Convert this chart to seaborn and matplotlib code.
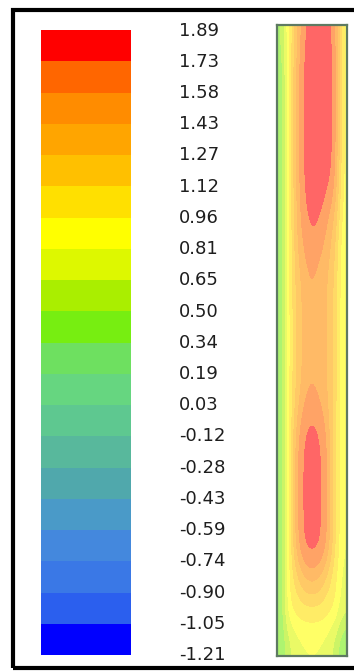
import numpy as np
import matplotlib
matplotlib.use("Agg")
import matplotlib.pyplot as plt
import seaborn as sns
from matplotlib.colors import ListedColormap, BoundaryNorm
from matplotlib.patches import Rectangle

sns.set_theme(style="white")
plt.rcParams['font.family'] = ['DejaVu Sans']

# ---- data ----
level_labels = ["1.89", "1.73", "1.58", "1.43", "1.27", "1.12", "0.96", "0.81",
                "0.65", "0.50", "0.34", "0.19", "0.03", "-0.12", "-0.28", "-0.43",
                "-0.59", "-0.74", "-0.90", "-1.05", "-1.21"]
level_values = [1.89, 1.73, 1.58, 1.43, 1.27, 1.12, 0.96, 0.81, 0.65, 0.50, 0.34,
                0.19, 0.03, -0.12, -0.28, -0.43, -0.59, -0.74, -0.90, -1.05, -1.21]
band_colors = ["#FF0000", "#FF6600", "#FF8C00", "#FFA500", "#FFC000", "#FFE000",
               "#FFFF00", "#DDF800", "#AAEE00", "#77EE11", "#6EE060", "#66D680",
               "#5EC890", "#58B89C", "#50A8AC", "#4A9AC8", "#4488DD", "#3A78E6",
               "#2B5FEE", "#0000FF"]

# field values (rows top -> bottom, columns left -> right)
field_rows = [
    [0.45, 0.95, 1.40, 1.75, 1.78, 1.78, 1.78, 1.70, 0.90],
    [0.35, 0.95, 1.50, 1.78, 1.80, 1.80, 1.80, 1.75, 0.90],
    [0.35, 0.95, 1.50, 1.78, 1.80, 1.80, 1.80, 1.74, 0.90],
    [0.35, 0.95, 1.50, 1.78, 1.80, 1.80, 1.80, 1.72, 0.90],
    [0.35, 0.95, 1.50, 1.78, 1.80, 1.80, 1.80, 1.70, 0.90],
    [0.35, 0.95, 1.48, 1.75, 1.80, 1.80, 1.75, 1.60, 0.88],
    [0.35, 0.95, 1.45, 1.70, 1.76, 1.74, 1.60, 1.40, 0.85],
    [0.35, 0.95, 1.40, 1.60, 1.70, 1.62, 1.50, 1.30, 0.80],
    [0.35, 0.95, 1.35, 1.50, 1.60, 1.50, 1.45, 1.25, 0.80],
    [0.35, 0.95, 1.30, 1.50, 1.55, 1.50, 1.45, 1.20, 0.80],
    [0.35, 0.95, 1.30, 1.50, 1.55, 1.50, 1.45, 1.20, 0.80],
    [0.35, 0.95, 1.30, 1.50, 1.55, 1.50, 1.45, 1.20, 0.80],
    [0.35, 0.95, 1.35, 1.58, 1.66, 1.58, 1.45, 1.20, 0.80],
    [0.35, 0.95, 1.50, 1.74, 1.77, 1.74, 1.55, 1.15, 0.80],
    [0.35, 0.95, 1.58, 1.77, 1.79, 1.77, 1.62, 1.15, 0.80],
    [0.35, 0.95, 1.58, 1.77, 1.79, 1.77, 1.62, 1.15, 0.80],
    [0.35, 0.95, 1.58, 1.77, 1.79, 1.77, 1.62, 1.15, 0.80],
    [0.35, 0.95, 1.50, 1.75, 1.78, 1.75, 1.55, 1.10, 0.80],
    [0.35, 0.95, 1.20, 1.40, 1.48, 1.40, 1.20, 1.00, 0.75],
    [0.35, 0.95, 1.00, 1.05, 1.05, 1.05, 1.00, 0.95, 0.70],
    [0.35, 0.60, 0.75, 0.80, 0.80, 0.80, 0.75, 0.60, 0.35],
]

# ---- figure ----
W, H = 354, 671
fig = plt.figure(figsize=(W / 100, H / 100), dpi=100)
fig.patch.set_facecolor("white")

def fx(px):
    return px / W

def fy(py):
    return 1 - py / H

# outer black frame (right side runs off the picture)
fig.add_artist(Rectangle((fx(13), fy(668)), fx(400) - fx(13), fy(10) - fy(668),
                         transform=fig.transFigure, fill=False,
                         edgecolor="black", linewidth=3.0, zorder=5))

# colour key (legend swatches)
cmap = ListedColormap(band_colors[::-1])
bounds = level_values[::-1]
norm = BoundaryNorm(bounds, cmap.N)
mids = [(level_values[i] + level_values[i + 1]) / 2 for i in range(len(band_colors))]

ax_key = fig.add_axes([fx(41), fy(655), fx(131) - fx(41), fy(30) - fy(655)])
sns.heatmap(np.array(mids).reshape(-1, 1), cmap=cmap, norm=norm, cbar=False,
            xticklabels=False, yticklabels=False, ax=ax_key, linewidths=0)
for s in ax_key.spines.values():
    s.set_visible(False)

top_px, bot_px = 30.5, 655.0
n = len(level_labels)
for i, lab in enumerate(level_labels):
    ypx = top_px + (bot_px - top_px) * i / (n - 1)
    fig.text(fx(179), fy(ypx), lab, ha="left", va="center",
             fontsize=13, color="#1e1e1e")

# contour field panel
ax_f = fig.add_axes([fx(277), fy(656), fx(347) - fx(277), fy(25) - fy(656)])
field = np.array(field_rows)
ax_f.imshow(field, cmap=cmap, norm=norm, aspect="auto", extent=(0, 1, 0, 1),
            interpolation="bicubic", alpha=0.6)
ax_f.set_xticks([])
ax_f.set_yticks([])
for s in ax_f.spines.values():
    s.set_visible(True)
    s.set_color("#5E7A62")
    s.set_linewidth(1.6)

fig.savefig("out.png", dpi=100)
